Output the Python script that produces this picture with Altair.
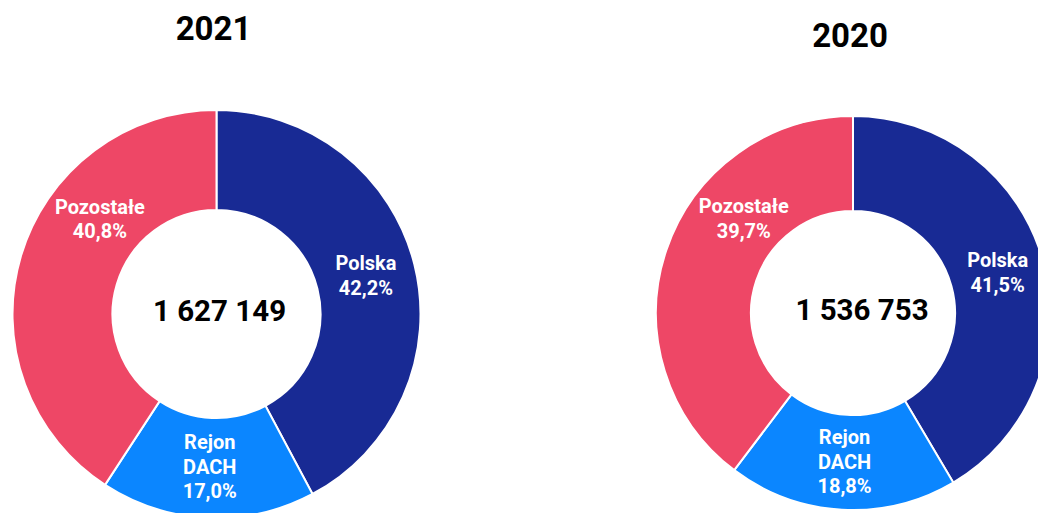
import altair as alt
import pandas as pd

# ---- data ----
years = ["2021", "2020"]
categories = ["Polska", "Rejon DACH", "Pozostałe"]
display_names = ["Polska", "Rejon\nDACH", "Pozostałe"]
share_2021 = [42.2, 17.0, 40.8]
share_2020 = [41.5, 18.8, 39.7]
totals = [1627149, 1536753]
colors = ["#182A94", "#0B86FF", "#EE4766"]

rows = []
for y, shares in zip(years, [share_2021, share_2020]):
    for i, (c, d, s) in enumerate(zip(categories, display_names, shares)):
        rows.append({"year": y, "cat": c, "idx": i, "pct": s,
                     "label": d + "\n" + f"{s:.1f}".replace(".", ",") + "%"})
df = pd.DataFrame(rows)
tot = pd.DataFrame({"year": years,
                    "total": [f"{v:,}".replace(",", " ") for v in totals]})

FONT = "Roboto"
LH = 24.5
LFS = 20
# layout per year: centre, radii, label radius, offsets
layout = {
    "2021": dict(cx=216.5, cy=314, ro=204, ri=104, rl=154, tdx=3, ty=30, ldx=31, ldy=-50),
    "2020": dict(cx=853, cy=313, ro=197, ri=102, rl=150, tdx=9, ty=37, ldx=33, ldy=-46),
}

theta_scale = alt.Scale(domain=[0, 100])
color_scale = alt.Scale(domain=categories, range=colors)

layers = []
for y in years:
    L = layout[y]
    d = df[df["year"] == y]
    base = alt.Chart(d).transform_stack(
        stack="pct", as_=["start", "end"], groupby=["year"],
        sort=[alt.SortField("idx", order="ascending")]
    ).transform_calculate(mid="(datum.start + datum.end) / 2")

    arc = base.mark_arc(outerRadius=L["ro"], innerRadius=L["ri"],
                        stroke="white", strokeWidth=2).encode(
        theta=alt.Theta("start:Q", scale=theta_scale),
        theta2="end:Q",
        color=alt.Color("cat:N", scale=color_scale, legend=None),
        x=alt.value(L["cx"]), y=alt.value(L["cy"]),
    )
    layers.append(arc)
    # per-label offsets (multi-line blocks are anchored at their first line)
    offs = {
        "Polska": (0, -LH / 2),
        "Rejon DACH": (0, -LH),
        "Pozostałe": (L["ldx"], L["ldy"] - LH / 2),
    }
    for cat, (ddx, ddy) in offs.items():
        lab = base.transform_filter(alt.datum.cat == cat).mark_text(
            radius=L["rl"], lineBreak="\n", font=FONT, fontSize=LFS, fontWeight="bold",
            color="white", lineHeight=LH, baseline="middle", align="center",
            dx=ddx, dy=ddy
        ).encode(
            theta=alt.Theta("mid:Q", scale=theta_scale),
            text="label:N",
            x=alt.value(L["cx"]), y=alt.value(L["cy"]),
        )
        layers.append(lab)
    t = tot[tot["year"] == y]
    center = alt.Chart(t).mark_text(
        font=FONT, fontSize=29.5, fontWeight="bold", color="#000000",
        baseline="middle", align="center", dx=L["tdx"], dy=-2
    ).encode(text="total:N", x=alt.value(L["cx"]), y=alt.value(L["cy"]))
    title = alt.Chart(t).mark_text(
        font=FONT, fontSize=33, fontWeight="bold", color="#000000",
        baseline="middle", align="center", dx=-3
    ).encode(text="year:N", x=alt.value(L["cx"]), y=alt.value(L["ty"]))
    layers += [center, title]

chart = alt.layer(*layers).properties(
    width=1038, height=513, autosize="none", padding=0
).configure_view(strokeWidth=0)

chart.save("out.html", embed_options={"renderer": "svg", "actions": False})
